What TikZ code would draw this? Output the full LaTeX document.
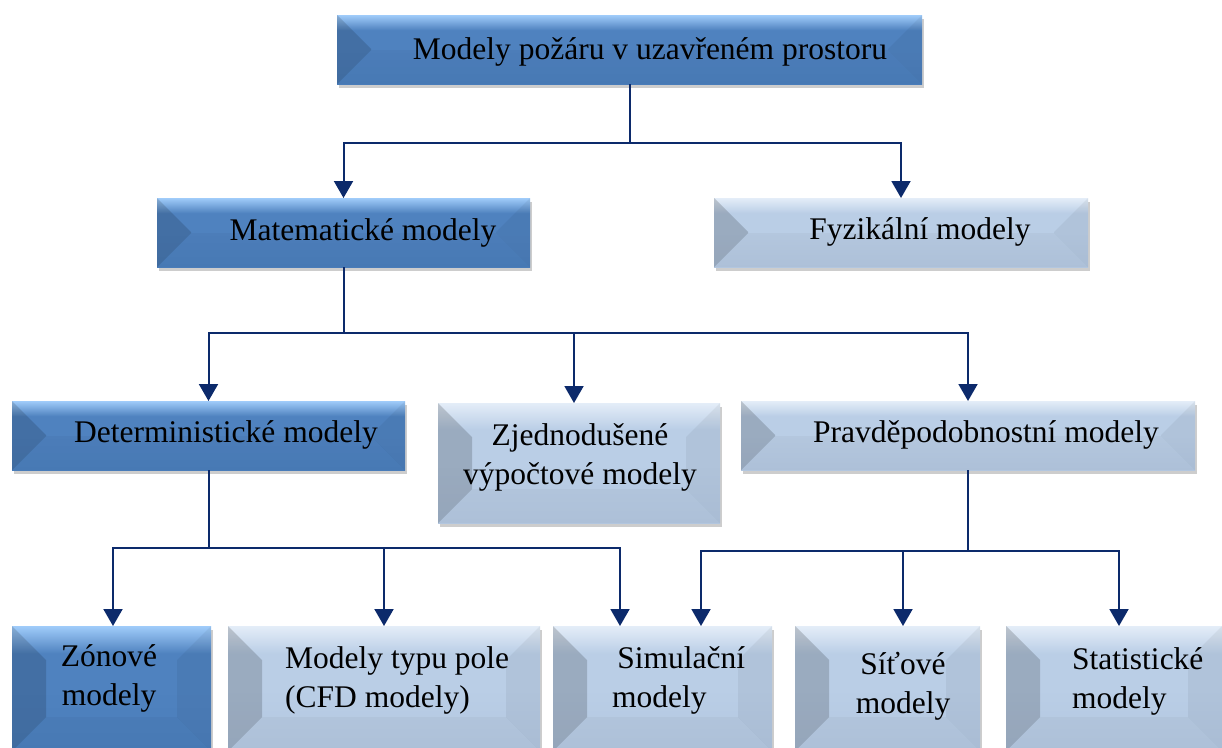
\documentclass[tikz,border=0pt]{standalone}
\usepackage{fontspec}
\setmainfont{Liberation Serif}
\usetikzlibrary{arrows.meta,shadows,calc}

\definecolor{dkT}{HTML}{A0CCFA}
\definecolor{dkM}{HTML}{4F82BF}
\definecolor{dkB}{HTML}{4A7DBA}
\definecolor{ltT}{HTML}{E4EDF8}
\definecolor{ltM}{HTML}{BACEE6}
\definecolor{ltB}{HTML}{B3C7E0}
\definecolor{navy}{HTML}{0C2A6B}

\pgfdeclareverticalshading{dkshade}{100bp}{color(0bp)=(dkB); color(25bp)=(dkB); color(50bp)=(dkM); color(64bp)=(dkM); color(75bp)=(dkT); color(100bp)=(dkT)}
\pgfdeclareverticalshading{ltshade}{100bp}{color(0bp)=(ltB); color(25bp)=(ltB); color(50bp)=(ltM); color(64bp)=(ltM); color(75bp)=(ltT); color(100bp)=(ltT)}

\tikzset{
  bevel/.style={path picture={
    \coordinate (bnw) at (path picture bounding box.north west);
    \coordinate (bne) at (path picture bounding box.north east);
    \coordinate (bsw) at (path picture bounding box.south west);
    \coordinate (bse) at (path picture bounding box.south east);
    \fill[black,opacity=#1] (bnw) -- ([shift={(34pt,-34pt)}]bnw) -- ([shift={(34pt,34pt)}]bsw) -- (bsw) -- cycle;
    \fill[black,opacity=0.05] (bne) -- ([shift={(-34pt,-34pt)}]bne) -- ([shift={(-34pt,34pt)}]bse) -- (bse) -- cycle;
    \fill[black,opacity=0.03] (bsw) -- ([shift={(34pt,34pt)}]bsw) -- ([shift={(-34pt,34pt)}]bse) -- (bse) -- cycle;
  }},
  boxbase/.style={rectangle, inner sep=0pt, outer sep=0pt, anchor=north west,
    drop shadow={shadow xshift=2pt, shadow yshift=-4pt, opacity=0.28, fill=black!70}},
  dkbox/.style={boxbase, shading=dkshade, bevel=0.14},
  ltbox/.style={boxbase, shading=ltshade, bevel=0.17},
  txt/.style={font=\fontsize{31.5}{39}\selectfont, inner sep=0pt, align=center, text=black},
  conn/.style={draw=navy, line width=2pt},
  arr/.style={conn, -{Triangle[width=19pt,length=17pt]}}
}

\begin{document}
\begin{tikzpicture}[x=1pt,y=-1pt]
\useasboundingbox (0,0) rectangle (1222,747);

% boxes
\node[dkbox, minimum width=585pt, minimum height=69pt] (top) at (337,15) {};
\node[dkbox, minimum width=373pt, minimum height=69pt] (mat) at (157,198) {};
\node[ltbox, minimum width=374pt, minimum height=69pt] (fyz) at (714,198) {};
\node[dkbox, minimum width=393pt, minimum height=69pt] (det) at (12,401) {};
\node[ltbox, minimum width=282pt, minimum height=120pt] (zje) at (438,403) {};
\node[ltbox, minimum width=454pt, minimum height=69pt] (pra) at (741,401) {};
\node[dkbox, minimum width=199pt, minimum height=125pt] (zon) at (12,626) {};
\node[ltbox, minimum width=312pt, minimum height=125pt] (cfd) at (228,626) {};
\node[ltbox, minimum width=219pt, minimum height=125pt] (sim) at (553,626) {};
\node[ltbox, minimum width=185pt, minimum height=125pt] (sit) at (795,626) {};
\node[ltbox, minimum width=216pt, minimum height=125pt] (sta) at (1006,626) {};

% texts
\node[txt, anchor=base] (ttop) at (650,59) {Modely požáru v uzavřeném prostoru};
\node[txt, anchor=base] (tmat) at (363,240) {Matematické modely};
\node[txt, anchor=base] (tfyz) at (920,239) {Fyzikální modely};
\node[txt, anchor=base] (tdet) at (226,442) {Deterministické modely};
\node[txt] (tzje) at (580,457) {Zjednodušené\\výpočtové modely};
\node[txt, anchor=base] (tpra) at (986,442) {Pravděpodobnostní modely};
\node[txt] (tzon) at (109,678) {Zónové\\modely};
\node[txt, align=left, anchor=west] (tcfd) at (285,680) {Modely typu pole\\(CFD modely)};
\node[txt, align=left, anchor=west] (tsim) at (612,680) {\,Simulační\\modely};
\node[txt] (tsit) at (903,686) {Síťové\\modely};
\node[txt, align=left, anchor=west] (tsta) at (1072,681) {Statistické\\modely};

% connectors
\coordinate (j1) at (top.south |- 0,143);
\draw[conn] (top.south) -- (j1);
\draw[arr] (j1) -| (mat.north);
\draw[arr] (j1) -| (fyz.north);

\coordinate (j2) at (mat.south |- 0,333);
\draw[conn] (mat.south) -- (j2);
\draw[arr] (j2) -| (det.north);
\draw[arr] (j2) -| (574,403);
\draw[arr] (j2) -| (pra.north);

\coordinate (j3) at (det.south |- 0,548);
\draw[conn] (det.south) -- (j3);
\draw[arr] (j3) -| (zon.north -| 113,0);
\draw[arr] (j3) -| (cfd.north);
\draw[arr] (j3) -| (sim.north -| 620,0);

\coordinate (j4) at (pra.south |- 0,551);
\draw[conn] (pra.south) -- (j4);
\draw[arr] (j4) -| (sim.north -| 701,0);
\draw[arr] (j4) -| (sit.north -| 903,0);
\draw[arr] (j4) -| (sta.north -| 1119,0);
\end{tikzpicture}
\end{document}
